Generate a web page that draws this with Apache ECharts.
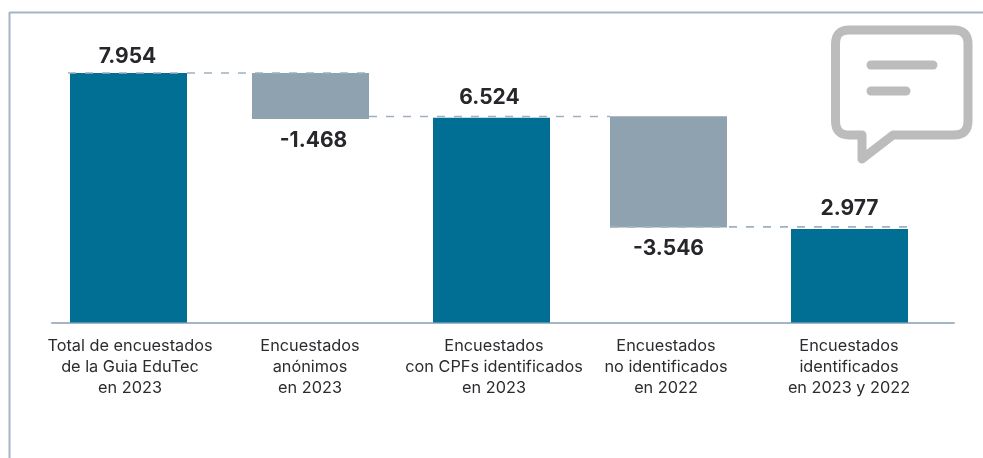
<!DOCTYPE html>
<html><head><meta charset="utf-8">
<style>html,body{margin:0;padding:0;background:#fff}#c{width:983px;height:458px}</style>
<script src="https://cdn.jsdelivr.net/npm/echarts@6/dist/echarts.min.js"></script>
</head><body><div id="c"></div>
<script>
const categories = ["Total de encuestados\nde la Guia EduTec\nen 2023","Encuestados\nanónimos\nen 2023","Encuestados\ncon CPFs identificados\nen 2023","Encuestados\nno identificados\nen 2022","Encuestados\nidentificados\nen 2023 y 2022"];
const barSlots = [76.5, 258.5, 439.5, 616.5, 797.5];
const labelSlots = [78, 258, 442, 614, 797];
const totals = [7954, null, 6524, null, 2977];
const drops = [null, 1468, null, 3546, null];
const dropBases = [null, 6486, null, 3030, null];
const connectors = [[16, 317, 7954], [317, 558, 6567], [558, 858, 3046]];
const labelOffsets = [[-1,0], [3,0], [-2,-4], [0,0], [0,-4]];

echarts.graphic.registerShape('bubble', echarts.graphic.extendPath('M849 30H954Q968 30 968 44V121Q968 135 954 135H893L862 159V135H849Q835.5 135 835.5 121V44Q835.5 30 849 30Z', {}));
const fmt = v => v.toFixed(0).replace(/\B(?=(\d{3})+$)/g, '.');
const pick = arr => barSlots.map((x,i)=>arr[i]==null?null:{value:[arr[i],x],label:{offset:labelOffsets[i]}}).filter(Boolean);
const labelStyle = {fontFamily:'Inter',fontWeight:700,fontSize:21,color:'#26262b'};
const frame = '#a3b5c6';
const barBase = {type:'bar',barWidth:117,barGap:'-100%',encode:{x:1,y:0}};
const option = {
  animation:false,
  grid:{left:52,right:29,top:73,bottom:135.5},
  xAxis:{type:'value',min:0,max:902,splitLine:{show:false},axisTick:{show:false},
    axisLine:{show:true,onZero:false,lineStyle:{color:frame,width:2}},
    axisLabel:{customValues:labelSlots,margin:13,fontFamily:'Inter',fontSize:16.3,lineHeight:21,color:'#2b2b30',align:'center',
      hideOverlap:false,formatter:v=>categories[labelSlots.indexOf(v)]||''}},
  yAxis:{type:'value',min:0,max:7954,show:false},
  series:[
    {...barBase,stack:'w',silent:true,itemStyle:{color:'transparent'},data:pick(dropBases).map(d=>({value:d.value}))},
    {...barBase,stack:'w',itemStyle:{color:'#8fa2b0'},data:pick(drops),
      label:{show:true,position:'bottom',distance:11,...labelStyle,formatter:p=>'-'+fmt(p.value[0])}},
    {...barBase,stack:'t',itemStyle:{color:'#006f93'},data:pick(totals),
      label:{show:true,position:'top',distance:6,...labelStyle,formatter:p=>fmt(p.value[0])}},
    ...connectors.map(c=>({type:'line',symbol:'none',silent:true,clip:false,z:5,
      lineStyle:{color:'#9fb1c0',width:1.7,type:[8,9]},data:[[c[0],c[2]],[c[1],c[2]]]}))
  ],
  graphic:[
    {type:'line',shape:{x1:9.5,y1:12.5,x2:983,y2:12.5},style:{stroke:frame,lineWidth:2}},
    {type:'line',shape:{x1:9.5,y1:12,x2:9.5,y2:458},style:{stroke:frame,lineWidth:2}},
    {type:'bubble',style:{fill:'none',stroke:'#bcbcbc',lineWidth:9,lineJoin:'round'}},
    {type:'line',shape:{x1:871,y1:65,x2:933,y2:65},style:{stroke:'#bcbcbc',lineWidth:9,lineCap:'round'}},
    {type:'line',shape:{x1:871,y1:91,x2:906,y2:91},style:{stroke:'#bcbcbc',lineWidth:9,lineCap:'round'}}
  ]
};
echarts.init(document.getElementById('c'),null,{renderer:'canvas'}).setOption(option);
</script></body></html>
